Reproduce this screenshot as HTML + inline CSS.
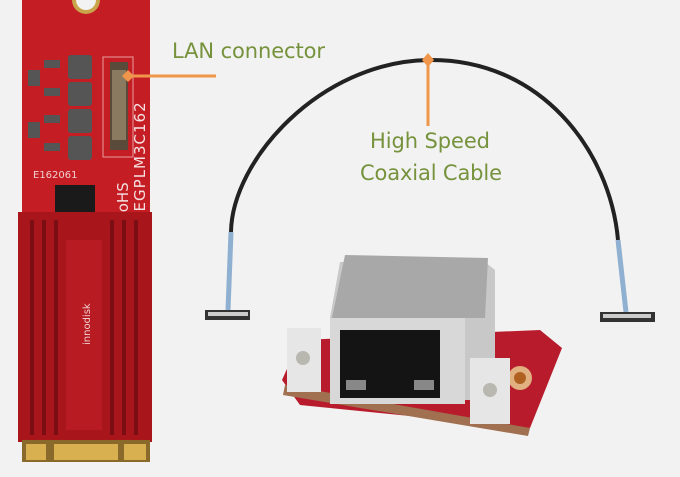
<!DOCTYPE html>
<html><head><style>
html,body{margin:0;padding:0;background:#f2f2f2;}
svg{display:block;}
text{font-family:"DejaVu Sans","Liberation Sans",sans-serif;}
</style></head><body>
<svg width="680" height="477" viewBox="0 0 680 477" xmlns="http://www.w3.org/2000/svg">
<rect width="680" height="477" fill="#f2f2f2"/>
<!-- M.2 card -->
<rect x="22" y="0" width="128" height="230" fill="#c41d24"/>
<circle cx="86" cy="0" r="14" fill="#c9a44a"/><circle cx="86" cy="0" r="10" fill="#f2f2f2"/>
<g fill="#555">
<rect x="68" y="55" width="24" height="24" rx="3"/><rect x="68" y="82" width="24" height="24" rx="3"/>
<rect x="68" y="109" width="24" height="24" rx="3"/><rect x="68" y="136" width="24" height="24" rx="3"/>
<rect x="44" y="60" width="16" height="8"/><rect x="44" y="88" width="16" height="8"/>
<rect x="44" y="115" width="16" height="8"/><rect x="44" y="143" width="16" height="8"/>
<rect x="28" y="70" width="12" height="16"/><rect x="28" y="122" width="12" height="16"/>
</g>
<rect x="103" y="57" width="30" height="100" fill="none" stroke="#e8a0a0" stroke-width="1"/>
<rect x="110" y="62" width="18" height="88" fill="#5a4a3a"/>
<rect x="112" y="70" width="14" height="70" fill="#8a7a60"/>
<rect x="55" y="185" width="40" height="32" fill="#1a1a1a"/>
<text x="33" y="178" font-size="10" fill="#f0d0d0">E162061</text>
<text transform="translate(145,222) rotate(-90)" font-size="15" fill="#f4e0e0" letter-spacing="1">4EGPLM3C162</text>
<text transform="translate(128,222) rotate(-90)" font-size="15" fill="#f4e0e0">RoHS</text>
<!-- heatsink -->
<rect x="18" y="212" width="134" height="230" fill="#a8161c"/>
<g fill="#7a0e12">
<rect x="30" y="220" width="4" height="215"/><rect x="42" y="220" width="4" height="215"/>
<rect x="54" y="220" width="4" height="215"/><rect x="110" y="220" width="4" height="215"/>
<rect x="122" y="220" width="4" height="215"/><rect x="134" y="220" width="4" height="215"/>
</g>
<rect x="66" y="240" width="36" height="190" fill="#b81c22"/>
<text transform="translate(90,345) rotate(-90)" font-size="10" fill="#f0d0d0">innodisk</text>
<rect x="22" y="440" width="128" height="22" fill="#8a6a2a"/>
<g fill="#d8b050"><rect x="26" y="444" width="20" height="16"/><rect x="54" y="444" width="64" height="16"/><rect x="124" y="444" width="22" height="16"/></g>
<!-- labels -->
<line x1="128" y1="76" x2="216" y2="76" stroke="#f0964a" stroke-width="3"/>
<polygon points="128,70 134,76 128,82 122,76" fill="#f0964a"/>
<text x="172" y="58" font-size="21" fill="#76923c" textLength="153">LAN connector</text>
<!-- cable -->
<path d="M231,232 C232,160 320,62 428,60 C540,58 610,150 618,240" fill="none" stroke="#222" stroke-width="4"/>
<path d="M231,232 L228,310 M618,240 L626,312" stroke="#8fb0d0" stroke-width="5"/>
<rect x="205" y="310" width="45" height="10" fill="#333"/><rect x="208" y="312" width="40" height="4" fill="#ccc"/>
<rect x="600" y="312" width="55" height="10" fill="#333"/><rect x="603" y="314" width="48" height="4" fill="#ccc"/>
<line x1="428" y1="60" x2="428" y2="126" stroke="#f0964a" stroke-width="3"/>
<polygon points="428,53 434,60 428,67 422,60" fill="#f0964a"/>
<text x="370" y="148" font-size="21" fill="#76923c" textLength="120">High Speed</text>
<text x="360" y="180" font-size="21" fill="#76923c" textLength="142">Coaxial Cable</text>
<!-- RJ45 module -->
<polygon points="282,380 300,340 540,330 562,348 530,428 300,405" fill="#b81c2c"/>
<polygon points="285,385 530,428 528,436 283,395" fill="#a07050"/>
<circle cx="520" cy="378" r="12" fill="#e0b080"/><circle cx="520" cy="378" r="6" fill="#b06020"/>
<polygon points="340,262 485,262 495,270 495,400 330,400 330,318" fill="#c8c8c8"/>
<polygon points="345,255 488,258 485,318 332,318" fill="#a8a8a8"/>
<rect x="330" y="318" width="135" height="86" fill="#d8d8d8"/>
<rect x="340" y="330" width="100" height="68" fill="#141414"/>
<rect x="346" y="380" width="20" height="10" fill="#888"/><rect x="414" y="380" width="20" height="10" fill="#888"/>
<rect x="287" y="328" width="34" height="64" fill="#e6e6e6"/><circle cx="303" cy="358" r="7" fill="#b8b8b0"/>
<rect x="470" y="358" width="40" height="66" fill="#e6e6e6"/><circle cx="490" cy="390" r="7" fill="#b8b8b0"/>
</svg>
</body></html>
